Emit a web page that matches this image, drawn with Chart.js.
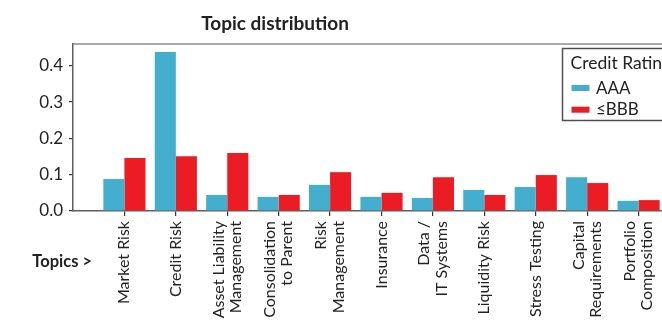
<!DOCTYPE html>
<html>
<head>
<meta charset="utf-8">
<title>Topic distribution</title>
<script src="https://cdn.jsdelivr.net/npm/chart.js@4"></script>
<style>
  html, body { margin: 0; padding: 0; overflow: hidden; background: #fff; }
  canvas { display: block; }
</style>
</head>
<body>
<canvas id="chart" width="690" height="321"></canvas>
<script>
// Topic shares per credit-rating group
const chartTitle = 'Topic distribution';
const axisCaption = 'Topics >';
const legendTitle = 'Credit Rating';
const topics = [
  'Market Risk',
  'Credit Risk',
  'Asset Liability\nManagement',
  'Consolidation\nto Parent',
  'Risk\nManagement',
  'Insurance',
  'Data /\nIT Systems',
  'Liquidity Risk',
  'Stress Testing',
  'Capital\nRequirements',
  'Portfolio\nComposition'
];
const seriesNames = ['AAA', '\u2264BBB'];
const aaa = [0.088, 0.438, 0.044, 0.039, 0.072, 0.039, 0.036, 0.058, 0.066, 0.093, 0.028];
const bbb = [0.146, 0.151, 0.160, 0.044, 0.107, 0.050, 0.093, 0.044, 0.099, 0.077, 0.030];
const yTicks = [0.0, 0.1, 0.2, 0.3, 0.4];

const colors = ['#43AECD', '#EC1C24'];
const FONT = 'Lato';
const TEXT = '#222222';
const AXIS = '#5e5e5e';

// one empty slot on each side keeps a margin around the topic columns
const labels = ['', ...topics, ''];
const pad = arr => [null, ...arr, null];

Chart.defaults.font.family = FONT;
Chart.defaults.color = TEXT;

const decorations = {
  id: 'decorations',
  afterDraw(chart) {
    const { ctx, chartArea, scales } = chart;
    const xs = scales.x;
    ctx.save();

    // upper frame line
    ctx.strokeStyle = '#8c8c8c';
    ctx.lineWidth = 1.5;
    ctx.beginPath();
    ctx.moveTo(chartArea.left, chartArea.top);
    ctx.lineTo(chartArea.right, chartArea.top);
    ctx.stroke();

    // title
    ctx.fillStyle = TEXT;
    ctx.font = 'bold 19px ' + FONT;
    ctx.textAlign = 'center';
    ctx.textBaseline = 'alphabetic';
    ctx.fillText(chartTitle, 275, 30);

    // rotated topic labels, each block centred on its tick
    ctx.font = '16px ' + FONT;
    const lineStep = 17.3;
    chart.data.labels.forEach((lab, i) => {
      if (!lab) return;
      const lines = lab.split('\n');
      const px = xs.getPixelForValue(i);
      lines.forEach((line, j) => {
        const bx = px + (j - (lines.length - 1) / 2) * lineStep + 5;
        ctx.save();
        ctx.translate(bx, chartArea.bottom + 10);
        ctx.rotate(-Math.PI / 2);
        ctx.textAlign = 'right';
        ctx.textBaseline = 'alphabetic';
        ctx.fillText(line, 0, 0);
        ctx.restore();
      });
    });

    // axis caption
    ctx.font = 'bold 16.5px ' + FONT;
    ctx.textAlign = 'right';
    ctx.textBaseline = 'alphabetic';
    ctx.fillText(axisCaption, 92, 267);

    // legend box inside the plot
    ctx.font = '17.5px ' + FONT;
    const tw = ctx.measureText(legendTitle).width;
    const lx = 562.5, ly = 48.5, lw = tw + 17, lh = 72;
    ctx.fillStyle = '#fff';
    ctx.fillRect(lx, ly, lw, lh);
    ctx.strokeStyle = '#505050';
    ctx.lineWidth = 1.5;
    ctx.strokeRect(lx, ly, lw, lh);
    ctx.fillStyle = TEXT;
    ctx.textAlign = 'left';
    ctx.fillText(legendTitle, lx + 8, 68.5);
    ctx.font = '17px ' + FONT;
    chart.data.datasets.forEach((ds, k) => {
      const rowY = 93.5 + k * 21.7;
      ctx.fillStyle = ds.backgroundColor;
      ctx.fillRect(lx + 9, rowY - 8.5, 18, 6);
      ctx.fillStyle = TEXT;
      ctx.fillText(ds.label, lx + 33.5, rowY);
    });

    ctx.restore();
  }
};

new Chart(document.getElementById('chart'), {
  type: 'bar',
  data: {
    labels: labels,
    datasets: [
      { label: seriesNames[0], data: pad(aaa), backgroundColor: colors[0] },
      { label: seriesNames[1], data: pad(bbb), backgroundColor: colors[1] }
    ]
  },
  options: {
    responsive: false,
    animation: false,
    devicePixelRatio: 1,
    layout: { padding: { top: 44, left: 0, right: 0, bottom: 0 } },
    datasets: { bar: { categoryPercentage: 0.82, barPercentage: 1.0, borderWidth: 0 } },
    plugins: {
      legend: { display: false },
      title: { display: false },
      tooltip: { enabled: false }
    },
    scales: {
      x: {
        type: 'category',
        offset: false,
        grid: { display: true, offset: false, drawOnChartArea: false, drawTicks: true, tickLength: 5, tickColor: ctx => ctx.index === 0 || ctx.index === labels.length - 1 ? 'rgba(0,0,0,0)' : '#333', lineWidth: 1.2 },
        border: { display: true, color: AXIS, width: 1.5 },
        ticks: { display: false, autoSkip: false },
        afterFit: scale => { scale.height = 110; }
      },
      y: {
        min: 0,
        max: 0.46,
        grid: { display: true, drawOnChartArea: false, drawTicks: true, tickLength: 4, tickColor: '#333', lineWidth: 1.2 },
        border: { display: true, color: AXIS, width: 1.5 },
        afterBuildTicks: scale => { scale.ticks = yTicks.map(v => ({ value: v })); },
        ticks: {
          padding: 6,
          font: { size: 17 },
          color: TEXT,
          callback: v => Number(v).toFixed(1)
        },
        afterFit: scale => { scale.width = 73; }
      }
    }
  },
  plugins: [decorations]
});
</script>
</body>
</html>
